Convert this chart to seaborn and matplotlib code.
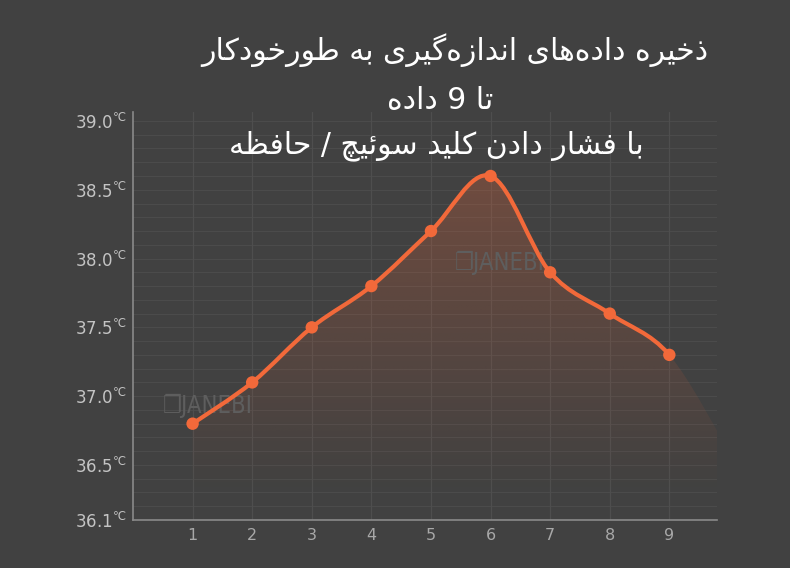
import numpy as np
import matplotlib
matplotlib.use("Agg")
import matplotlib.pyplot as plt
from matplotlib.path import Path
from matplotlib.patches import PathPatch
import seaborn as sns

# ---------------- data ----------------
x_values = [1, 2, 3, 4, 5, 6, 7, 8, 9]
temperatures = [36.8, 37.1, 37.5, 37.8, 38.2, 38.6, 37.9, 37.6, 37.3]
tail_x = 10          # hidden point that the shaded area runs on to
tail_value = 36.6
y_ticks = [36.1, 36.5, 37.0, 37.5, 38.0, 38.5, 39.0]
x_ticks = [1, 2, 3, 4, 5, 6, 7, 8, 9]
title_lines = [
    "ذخیره داده‌های اندازه‌گیری به طورخودکار",
    "تا 9 داده",
    "با فشار دادن کلید سوئیچ / حافظه",
]
watermark = "JANEBI"

BG = "#414141"
ORANGE = "#f2693a"
GRID = "#4b4b4b"

# ---------- minimal Arabic/Persian shaping (presentation forms) ----------
FORMS = {
    "\u0627": ("\uFE8D", "\uFE8E", None, None),
    "\u0628": ("\uFE8F", "\uFE90", "\uFE91", "\uFE92"),
    "\u062A": ("\uFE95", "\uFE96", "\uFE97", "\uFE98"),
    "\u062C": ("\uFE9D", "\uFE9E", "\uFE9F", "\uFEA0"),
    "\u062D": ("\uFEA1", "\uFEA2", "\uFEA3", "\uFEA4"),
    "\u062E": ("\uFEA5", "\uFEA6", "\uFEA7", "\uFEA8"),
    "\u062F": ("\uFEA9", "\uFEAA", None, None),
    "\u0630": ("\uFEAB", "\uFEAC", None, None),
    "\u0631": ("\uFEAD", "\uFEAE", None, None),
    "\u0632": ("\uFEAF", "\uFEB0", None, None),
    "\u0633": ("\uFEB1", "\uFEB2", "\uFEB3", "\uFEB4"),
    "\u0634": ("\uFEB5", "\uFEB6", "\uFEB7", "\uFEB8"),
    "\u0637": ("\uFEC1", "\uFEC2", "\uFEC3", "\uFEC4"),
    "\u0638": ("\uFEC5", "\uFEC6", "\uFEC7", "\uFEC8"),
    "\u0641": ("\uFED1", "\uFED2", "\uFED3", "\uFED4"),
    "\u0644": ("\uFEDD", "\uFEDE", "\uFEDF", "\uFEE0"),
    "\u0646": ("\uFEE5", "\uFEE6", "\uFEE7", "\uFEE8"),
    "\u0647": ("\uFEE9", "\uFEEA", "\uFEEB", "\uFEEC"),
    "\u0648": ("\uFEED", "\uFEEE", None, None),
    "\u0626": ("\uFE89", "\uFE8A", "\uFE8B", "\uFE8C"),
    "\u06CC": ("\uFBFC", "\uFBFD", "\uFBFE", "\uFBFF"),
    "\u06A9": ("\uFB8E", "\uFB8F", "\uFB90", "\uFB91"),
    "\u06AF": ("\uFB92", "\uFB93", "\uFB94", "\uFB95"),
    "\u0686": ("\uFB7A", "\uFB7B", "\uFB7C", "\uFB7D"),
}


def shape_rtl(text):
    out = []
    for i, c in enumerate(text):
        if c not in FORMS:
            out.append(c)
            continue
        prev = text[i - 1] if i > 0 else None
        nxt = text[i + 1] if i + 1 < len(text) else None
        p = prev in FORMS and FORMS[prev][2] is not None
        n = nxt in FORMS and FORMS[c][2] is not None
        iso, fin, ini, med = FORMS[c]
        if p and n:
            out.append(med)
        elif p:
            out.append(fin)
        elif n:
            out.append(ini)
        else:
            out.append(iso)
    return "".join(out).replace("\u200c", "")[::-1]


def bezier_path(xs, ys, close_to=None):
    pts = np.column_stack([xs, ys]).astype(float)
    n = len(pts)
    verts = [pts[0]]
    codes = [Path.MOVETO]
    for i in range(n - 1):
        p0 = pts[i - 1] if i > 0 else pts[i]
        p1, p2 = pts[i], pts[i + 1]
        p3 = pts[i + 2] if i + 2 < n else pts[i + 1]
        c1 = p1 + (p2 - p0) / 6.0
        c2 = p2 - (p3 - p1) / 6.0
        verts += [c1, c2, p2]
        codes += [Path.CURVE4] * 3
    if close_to is not None:
        verts += [(pts[-1][0], close_to), (pts[0][0], close_to), pts[0]]
        codes += [Path.LINETO, Path.LINETO, Path.CLOSEPOLY]
    return Path(np.array(verts), codes)


sns.set_style("dark", {"axes.facecolor": BG, "figure.facecolor": BG})
plt.rcParams["font.family"] = ["DejaVu Sans"]

fig = plt.figure(figsize=(7.9, 5.68), dpi=100)
fig.patch.set_facecolor(BG)
ax = fig.add_axes([133 / 790, 48 / 568, (717 - 133) / 790, (520 - 112) / 568])
ax.set_facecolor(BG)

ymin, ymax = 36.1, 39.065
ax.set_xlim(0, 9.8)
ax.set_ylim(ymin, ymax)

# grid
for yv in np.arange(36.2, 39.06, 0.1):
    ax.axhline(yv, color=GRID, lw=0.8, zorder=0)
for xv in x_ticks:
    ax.axvline(xv, color="#4e4e4e", lw=0.9, zorder=0)

# gradient area
fill_x = x_values + [tail_x]
fill_y = temperatures + [tail_value]
fill_path = bezier_path(fill_x, fill_y, close_to=ymin)
fill_patch = PathPatch(fill_path, transform=ax.transData, facecolor="none",
                       edgecolor="none")
ax.add_patch(fill_patch)
h = 256
grad = np.zeros((h, 2, 4))
rgb = matplotlib.colors.to_rgb(ORANGE)
grad[..., 0], grad[..., 1], grad[..., 2] = rgb
yy = np.linspace(ymax, ymin, h)
alpha = np.clip((yy - 36.3) / (38.9 - 36.3), 0, 1) * 0.30
grad[..., 3] = alpha[:, None]
im = ax.imshow(grad, extent=(0, 9.8, ymin, ymax), aspect="auto",
               origin="upper", zorder=1, interpolation="bilinear")
im.set_clip_path(fill_patch)

# curve (visible series 1..9)
line_path = bezier_path(fill_x, fill_y)
nv = 1 + 3 * (len(x_values) - 1)
ax.add_patch(PathPatch(Path(line_path.vertices[:nv], line_path.codes[:nv]),
                       transform=ax.transData, facecolor="none",
                       edgecolor=ORANGE, lw=3.0, zorder=3, capstyle="round"))
sns.scatterplot(x=x_values, y=temperatures, ax=ax, color=ORANGE, s=80,
                edgecolor="none", zorder=4, legend=False)

# watermarks
for wx, wy in [(0.5, 36.93), (5.4, 37.97)]:
    ax.text(wx, wy, "\u2750" + watermark, color="#5e5e5e", fontsize=17,
            va="center", ha="left", zorder=2, fontstretch="condensed",
            fontweight="light")

# axes styling
for s in ["top", "right"]:
    ax.spines[s].set_visible(False)
for s in ["left", "bottom"]:
    ax.spines[s].set_visible(True)
    ax.spines[s].set_color("#8a8a8a")
    ax.spines[s].set_linewidth(1.2)
ax.set_yticks(y_ticks)
ax.set_yticklabels([f"{v:.1f}$^{{\u2103}}$" for v in y_ticks])
ax.set_xticks(x_ticks)
ax.set_xticklabels([str(v) for v in x_ticks])
ax.tick_params(axis="y", colors="#c4c4c4", labelsize=12, length=4, width=1.2,
               pad=1, direction="out")
ax.tick_params(axis="x", colors="#a8a8a8", labelsize=11.5, length=0, pad=6)
ax.grid(False)
ax.set_xlabel("")
ax.set_ylabel("")

# title
for txt, cx, cy, fs in zip(title_lines, [455, 440, 436], [50, 100, 146],
                           [21.5, 21.5, 21.5]):
    fig.text(cx / 790, 1 - cy / 568, shape_rtl(txt), color="white",
             fontsize=fs, ha="center", va="center")

fig.savefig("out.png", dpi=100, facecolor=BG)
